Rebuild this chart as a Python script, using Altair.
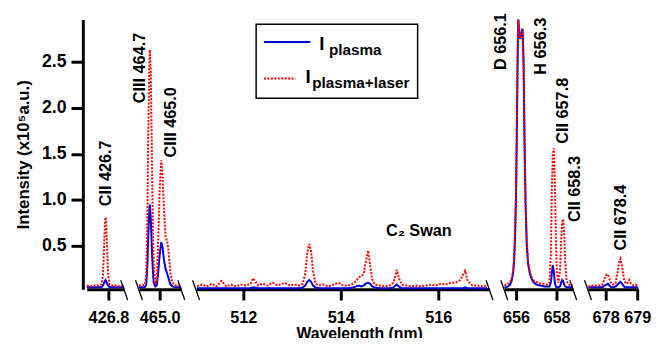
import altair as alt
import pandas as pd

FONT = "Liberation Sans"

# ---------------- data ----------------
seg1_wl = [426.25, 426.35, 426.45, 426.55, 426.62, 426.66, 426.69, 426.71, 426.725, 426.74,
           426.76, 426.79, 426.83, 426.9, 427.0, 427.1, 427.2]
seg1_plasma = [0.05, 0.05, 0.05, 0.05, 0.05, 0.07, 0.10, 0.12, 0.13, 0.12,
               0.10, 0.07, 0.05, 0.05, 0.05, 0.05, 0.05]
seg1_laser = [0.07, 0.06, 0.07, 0.07, 0.08, 0.18, 0.50, 0.75, 0.81, 0.78,
              0.55, 0.20, 0.08, 0.07, 0.07, 0.06, 0.07]

seg2_wl = [464.475, 464.55, 464.625, 464.66, 464.69, 464.71, 464.74, 464.75, 464.775, 464.8,
           464.825, 464.85, 464.89, 464.925, 464.96, 465.0, 465.04, 465.075, 465.11, 465.15,
           465.19, 465.225, 465.275, 465.325, 465.4, 465.55]
seg2_plasma = [0.05, 0.05, 0.05, 0.08, 0.30, 0.60, 0.90, 0.95, 0.80, 0.50,
               0.25, 0.10, 0.06, 0.07, 0.20, 0.40, 0.54, 0.48, 0.35, 0.25,
               0.20, 0.15, 0.08, 0.06, 0.05, 0.05]
seg2_laser = [0.07, 0.07, 0.08, 0.20, 0.90, 1.70, 2.50, 2.63, 2.40, 1.60,
              0.80, 0.30, 0.10, 0.12, 0.50, 1.10, 1.43, 1.25, 0.90, 0.60,
              0.55, 0.45, 0.20, 0.10, 0.07, 0.07]

seg3_wl = [511.05, 511.15, 511.25, 511.35, 511.45, 511.55, 511.65, 511.75, 511.85, 511.95,
           512.05, 512.15, 512.2, 512.3, 512.4, 512.5, 512.6, 512.7, 512.85, 512.95,
           513.05, 513.15, 513.22, 513.27, 513.31, 513.35, 513.39, 513.43, 513.48, 513.55,
           513.65, 513.75, 513.85, 513.95, 514.05, 514.15, 514.25, 514.32, 514.37, 514.42,
           514.47, 514.51, 514.56, 514.6, 514.64, 514.7, 514.8, 514.9, 515.0, 515.08,
           515.12, 515.15, 515.19, 515.25, 515.35, 515.45, 515.55, 515.65, 515.75, 515.85,
           515.95, 516.05, 516.15, 516.25, 516.35, 516.45, 516.5, 516.55, 516.6, 516.7,
           516.8, 516.9, 517.0]
seg3_plasma = [0.04, 0.04, 0.04, 0.04, 0.04, 0.04, 0.04, 0.04, 0.04, 0.04,
               0.04, 0.04, 0.05, 0.04, 0.04, 0.04, 0.04, 0.04, 0.04, 0.04,
               0.04, 0.04, 0.05, 0.07, 0.11, 0.13, 0.11, 0.07, 0.05, 0.04,
               0.04, 0.04, 0.04, 0.04, 0.04, 0.04, 0.05, 0.06, 0.07, 0.06,
               0.07, 0.09, 0.10, 0.09, 0.06, 0.05, 0.04, 0.04, 0.04, 0.05,
               0.07, 0.08, 0.06, 0.04, 0.04, 0.04, 0.04, 0.04, 0.04, 0.04,
               0.04, 0.04, 0.04, 0.04, 0.04, 0.04, 0.04, 0.05, 0.04, 0.04,
               0.04, 0.04, 0.04]
seg3_laser = [0.06, 0.08, 0.06, 0.09, 0.06, 0.12, 0.06, 0.08, 0.06, 0.08,
              0.07, 0.09, 0.15, 0.07, 0.09, 0.07, 0.10, 0.07, 0.10, 0.07,
              0.08, 0.07, 0.09, 0.20, 0.42, 0.52, 0.44, 0.22, 0.09, 0.07,
              0.08, 0.06, 0.08, 0.10, 0.07, 0.07, 0.09, 0.12, 0.16, 0.17,
              0.20, 0.32, 0.45, 0.30, 0.14, 0.08, 0.07, 0.06, 0.07, 0.10,
              0.18, 0.24, 0.15, 0.08, 0.07, 0.06, 0.07, 0.06, 0.07, 0.08,
              0.07, 0.09, 0.08, 0.10, 0.10, 0.13, 0.18, 0.23, 0.12, 0.07,
              0.07, 0.06, 0.07]

seg4_wl = [655.42, 655.5, 655.6, 655.7, 655.78, 655.85, 655.9, 655.95, 656.0, 656.04,
           656.08, 656.11, 656.15, 656.2, 656.26, 656.32, 656.37, 656.42, 656.47, 656.53,
           656.6, 656.68, 656.75, 656.85, 657.0, 657.2, 657.4, 657.55, 657.65, 657.72,
           657.77, 657.82, 657.87, 657.92, 657.97, 658.02, 658.1, 658.18, 658.23, 658.28,
           658.33, 658.38, 658.43, 658.5, 658.6, 658.7, 658.82]
seg4_plasma = [0.05, 0.05, 0.06, 0.08, 0.12, 0.20, 0.33, 0.60, 1.10, 1.80,
               2.60, 2.96, 2.85, 2.75, 2.80, 2.86, 2.50, 1.60, 0.95, 0.50,
               0.30, 0.20, 0.15, 0.11, 0.08, 0.07, 0.06, 0.06, 0.06, 0.10,
               0.20, 0.29, 0.22, 0.10, 0.06, 0.05, 0.05, 0.06, 0.10, 0.13,
               0.12, 0.08, 0.06, 0.05, 0.05, 0.05, 0.05]
seg4_laser = [0.07, 0.08, 0.09, 0.11, 0.15, 0.22, 0.35, 0.65, 1.10, 1.80,
              2.60, 2.95, 2.85, 2.76, 2.80, 2.84, 2.50, 1.65, 1.00, 0.55,
              0.33, 0.22, 0.17, 0.13, 0.11, 0.09, 0.09, 0.08, 0.10, 0.40,
              1.10, 1.50, 1.56, 1.20, 0.60, 0.20, 0.10, 0.25, 0.55, 0.75,
              0.79, 0.65, 0.35, 0.12, 0.08, 0.07, 0.07]

seg5_wl = [677.45, 677.5, 677.6, 677.7, 677.8, 677.9, 677.97, 678.03, 678.07, 678.12,
           678.18, 678.25, 678.32, 678.38, 678.43, 678.47, 678.52, 678.58, 678.63, 678.7,
           678.75, 678.8, 678.88, 678.95, 679.02]
seg5_plasma = [0.05, 0.05, 0.05, 0.05, 0.05, 0.05, 0.07, 0.08, 0.09, 0.07,
               0.05, 0.05, 0.06, 0.08, 0.10, 0.11, 0.09, 0.06, 0.05, 0.05,
               0.05, 0.05, 0.05, 0.05, 0.05]
seg5_laser = [0.07, 0.06, 0.07, 0.07, 0.07, 0.08, 0.15, 0.19, 0.19, 0.14,
              0.09, 0.08, 0.10, 0.22, 0.33, 0.36, 0.28, 0.14, 0.09, 0.10,
              0.13, 0.09, 0.07, 0.08, 0.07]

# line labels (text, wavelength, intensity)
ann1 = (["CII 426.7"], [426.75], [0.93])
ann2 = (["CIII 464.7", "CIII 465.0"], [464.5, 465.3], [2.05, 1.46])
ann4 = (["D 656.1", "H 656.3", "CII 657.8", "CII 658.3"],
        [655.27, 657.22, 658.34, 658.93], [2.41, 2.36, 1.61, 0.76])
ann5 = (["CII 678.4"], [678.5], [0.45])
swan_text = (["C₂ Swan"], [515.6], [0.66])

y_ticks = [0.5, 1.0, 1.5, 2.0, 2.5]
y_domain = [0.03, 2.96]

BLUE = "#0000dd"
RED = "#ff0000"
H = 274


def break_mark(xc):
    return alt.Chart(pd.DataFrame({"k": [0]})).mark_rule(color="black", strokeWidth=1.3).encode(
        x=alt.value(xc - 3.5), x2=alt.value(xc + 3.5), y=alt.value(H - 9), y2=alt.value(H + 11)
    )


def panel(wl, pl, la, dom, width, ticks, fmt, ann, left_break, right_break, first=False, extra=None):
    df = pd.DataFrame({"wl": wl, "plasma": pl, "laser": la})
    xs = alt.Scale(domain=dom, nice=False, zero=False)
    ys = alt.Scale(domain=y_domain, nice=False, zero=False)
    xaxis = alt.Axis(values=ticks, format=fmt, title=None, grid=False, domainWidth=3,
                     domainColor="black", tickWidth=3, tickSize=11, tickColor="black",
                     labelFont=FONT, labelFontSize=16.5, labelFontWeight="bold",
                     labelPadding=10, labelColor="black", labelFlush=False,
                     labelOverlap=False, labelBound=False)
    if first:
        yaxis = alt.Axis(values=y_ticks, format=".1f", title="Intensity (x10⁵a.u.)", grid=False,
                         domainWidth=3, domainColor="black", tickWidth=3, tickSize=12,
                         tickColor="black", offset=4, labelFont=FONT, labelFontSize=18,
                         labelFontWeight="bold", labelColor="black", labelPadding=5,
                         titleFont=FONT, titleFontSize=17, titleFontWeight="bold",
                         titleColor="black", titlePadding=9)
    else:
        yaxis = None
    base = alt.Chart(df)
    blue = base.mark_line(color=BLUE, strokeWidth=2).encode(
        x=alt.X("wl:Q", scale=xs, axis=xaxis), y=alt.Y("plasma:Q", scale=ys, axis=yaxis))
    red = base.mark_line(color=RED, strokeWidth=2, strokeDash=[2, 1.5]).encode(
        x=alt.X("wl:Q", scale=xs), y=alt.Y("laser:Q", scale=ys))
    layers = [blue, red]
    if ann is not None:
        adf = pd.DataFrame({"t": ann[0], "wl": ann[1], "v": ann[2]})
        layers.append(alt.Chart(adf).mark_text(angle=270, align="left", baseline="middle",
                                               font=FONT, fontSize=16.5, fontWeight="bold",
                                               color="black").encode(
            x=alt.X("wl:Q", scale=xs), y=alt.Y("v:Q", scale=ys), text="t:N"))
    if left_break:
        layers.append(break_mark(0))
    if right_break:
        layers.append(break_mark(width))
    if extra:
        layers.extend(extra)
    return alt.layer(*layers).properties(width=width, height=H)


P3_DOMAIN = [511.03, 517.05]

# legend + Swan label + x title for panel 3
sdf = pd.DataFrame({"t": swan_text[0], "wl": swan_text[1], "v": swan_text[2]})
one = pd.DataFrame({"k": [0]})
leg = [
    alt.Chart(one).mark_rect(fill="white", stroke="black", strokeWidth=1.5).encode(
        x=alt.value(61), x2=alt.value(225), y=alt.value(5), y2=alt.value(80)),
    alt.Chart(one).mark_rule(color=BLUE, strokeWidth=2).encode(
        x=alt.value(69), x2=alt.value(116), y=alt.value(23)),
    alt.Chart(one).mark_rule(color=RED, strokeWidth=2, strokeDash=[2, 1.5]).encode(
        x=alt.value(69), x2=alt.value(101), y=alt.value(60)),
    alt.Chart(one).mark_text(text="I", align="left", baseline="alphabetic", font=FONT,
                             fontSize=19, fontWeight="bold", color="black").encode(
        x=alt.value(125), y=alt.value(31)),
    alt.Chart(one).mark_text(text="plasma", align="left", baseline="alphabetic", font=FONT,
                             fontSize=15.5, fontWeight="bold", color="black").encode(
        x=alt.value(135), y=alt.value(36)),
    alt.Chart(one).mark_text(text="I", align="left", baseline="alphabetic", font=FONT,
                             fontSize=19, fontWeight="bold", color="black").encode(
        x=alt.value(111), y=alt.value(65)),
    alt.Chart(one).mark_text(text="plasma+laser", align="left", baseline="alphabetic", font=FONT,
                             fontSize=15.5, fontWeight="bold", color="black").encode(
        x=alt.value(118), y=alt.value(70)),
    alt.Chart(one).mark_text(text="Wavelength (nm)", align="center", baseline="alphabetic",
                             font=FONT, fontSize=16, fontWeight="bold", color="black").encode(
        x=alt.value(166), y=alt.value(325)),
]
swan = alt.Chart(sdf).mark_text(align="center", baseline="middle", font=FONT, fontSize=16.5,
                                fontWeight="bold", color="black").encode(
    x=alt.X("wl:Q", scale=alt.Scale(domain=P3_DOMAIN, nice=False, zero=False)),
    y=alt.Y("v:Q", scale=alt.Scale(domain=y_domain, nice=False)),
    text="t:N")

p1 = panel(seg1_wl, seg1_plasma, seg1_laser, [426.25, 427.2], 38, [426.8], ".1f", ann1,
           False, True, first=True)
p2 = panel(seg2_wl, seg2_plasma, seg2_laser, [464.475, 465.55], 43, [465.0], ".1f", ann2,
           True, True)
p3 = panel(seg3_wl, seg3_plasma, seg3_laser, P3_DOMAIN, 298, [512, 514, 516], "d", None,
           True, True, extra=[swan] + leg)
p4 = panel(seg4_wl, seg4_plasma, seg4_laser, [655.415, 658.83], 70, [656, 658], "d", ann4,
           True, True)
p5 = panel(seg5_wl, seg5_plasma, seg5_laser, [677.44, 679.03], 51, [678, 679], "d", ann5,
           True, False)

chart = alt.hconcat(p1, p2, p3, p4, p5, spacing=15, bounds="flush").resolve_scale(
    x="independent", y="independent").configure_view(strokeWidth=0).properties(
    background="white", padding={"left": 6, "top": 2, "right": 0, "bottom": -7})

chart.save("out.html", embed_options={"renderer": "svg", "actions": False})
